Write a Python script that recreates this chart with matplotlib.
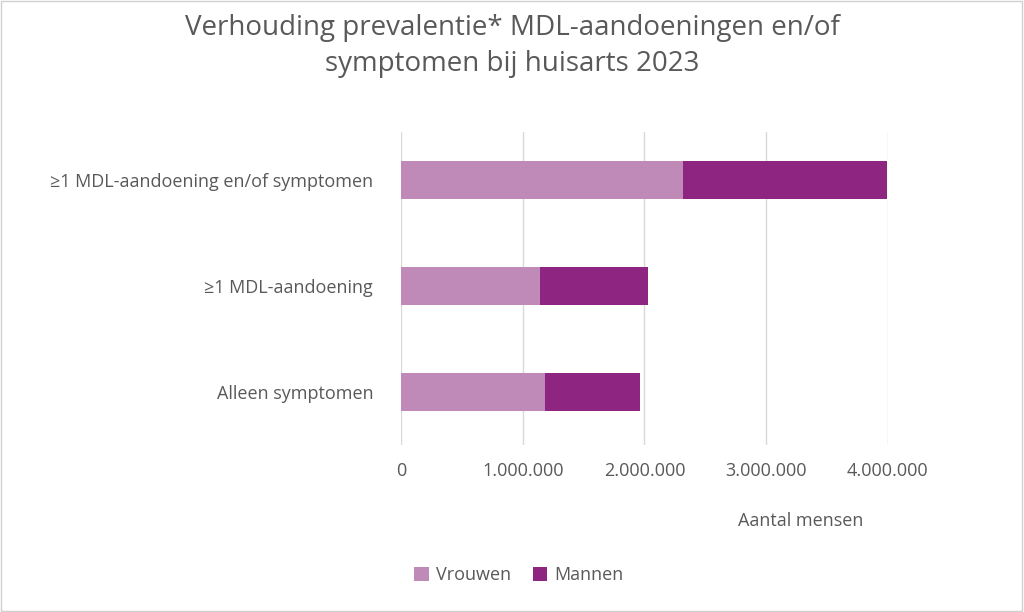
import matplotlib.pyplot as plt
from matplotlib.ticker import FuncFormatter

categories = ['Alleen symptomen', '≥1 MDL-aandoening', '≥1 MDL-aandoening en/of symptomen']
vrouwen = [1180000, 1140000, 2315000]
mannen = [780000, 890000, 1675000]

plt.rcParams['font.family'] = ['Open Sans', 'DejaVu Sans']
grey = '#595959'

fig = plt.figure(figsize=(10.24, 6.12), dpi=100)
fig.patches.append(plt.Rectangle((0.001, 0.002), 0.997, 0.996, transform=fig.transFigure,
                                 fill=False, edgecolor='#d0d0d0', linewidth=1))
ax = fig.add_axes([0.3916, 0.273, 0.4755, 0.511])

y = range(len(categories))
ax.barh(y, vrouwen, height=0.36, color='#BF8AB8', label='Vrouwen', zorder=3)
ax.barh(y, mannen, left=vrouwen, height=0.36, color='#8E2581', label='Mannen', zorder=3)

ax.set_xlim(0, 4000000)
ax.set_ylim(-0.5, 2.45)
ax.set_xticks([0, 1000000, 2000000, 3000000, 4000000])
ax.xaxis.set_major_formatter(FuncFormatter(lambda v, p: f'{int(v):,}'.replace(',', '.')))
ax.set_yticks(list(y))
ax.set_yticklabels(categories)
ax.tick_params(axis='both', length=0, labelsize=13, colors=grey)
ax.tick_params(axis='y', pad=20)
ax.tick_params(axis='x', pad=12)
ax.grid(axis='x', color='#d9d9d9', linewidth=1, zorder=0)
for s in ax.spines.values():
    s.set_visible(False)

fig.text(0.5, 0.925, 'Verhouding prevalentie* MDL-aandoeningen en/of\nsymptomen bij huisarts 2023',
         ha='center', va='center', fontsize=20, color=grey, linespacing=1.35)
fig.text(0.782, 0.148, 'Aantal mensen', ha='center', va='center', fontsize=13, color=grey)
fig.legend(loc='center', bbox_to_anchor=(0.507, 0.06), ncol=2, frameon=False,
           fontsize=13, labelcolor=grey, handlelength=0.8, handleheight=0.8,
           columnspacing=1.2, handletextpad=0.4)

fig.savefig('out.png', dpi=100)
